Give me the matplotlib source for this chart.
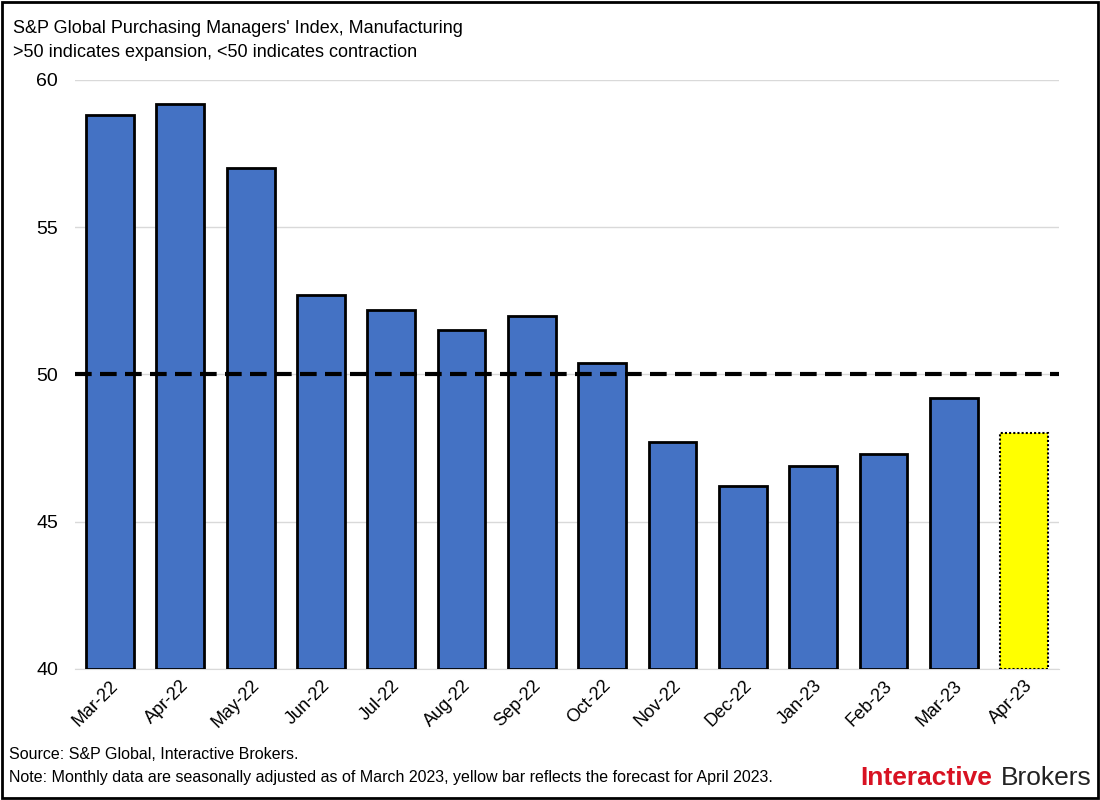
import matplotlib
matplotlib.use("Agg")
import matplotlib.pyplot as plt
from matplotlib.patches import Rectangle

months = ["Mar-22","Apr-22","May-22","Jun-22","Jul-22","Aug-22","Sep-22","Oct-22",
          "Nov-22","Dec-22","Jan-23","Feb-23","Mar-23","Apr-23"]
pmi = [58.8,59.2,57.0,52.7,52.2,51.5,52.0,50.4,47.7,46.2,46.9,47.3,49.2,48.0]
forecast = [False]*13 + [True]

plt.rcParams['font.family'] = ['Liberation Sans', 'DejaVu Sans']
fig = plt.figure(figsize=(11, 8), dpi=100)
ax = fig.add_axes([0.068, 0.164, 0.895, 0.736])
x = range(len(months))
for i, (v, f) in enumerate(zip(pmi, forecast)):
    if f:
        ax.bar(i, v - 40, bottom=40, width=0.68, color="#FFFF00", edgecolor="black",
               linewidth=1.5, linestyle=(0, (1, 1)), zorder=3)
    else:
        ax.bar(i, v - 40, bottom=40, width=0.68, color="#4472C4", edgecolor="black",
               linewidth=2, zorder=3)
ax.axhline(50, color="black", linestyle=(0, (4, 2)), linewidth=3, zorder=4)
ax.set_ylim(40, 60)
ax.set_xlim(-0.5, len(months) - 0.5)
ax.set_yticks([40, 45, 50, 55, 60])
ax.grid(axis="y", color="#d9d9d9", linewidth=1, zorder=0)
ax.set_xticks(list(x))
ax.set_xticklabels(months, rotation=45, ha="right", rotation_mode="anchor", fontsize=13)
ax.tick_params(axis="y", labelsize=14, length=0, pad=12)
ax.tick_params(axis="x", length=0, pad=6)
for s in ax.spines.values():
    s.set_visible(False)
ax.spines["bottom"].set_visible(True)
ax.spines["bottom"].set_color("#d9d9d9")

fig.text(0.012, 0.975, "S&P Global Purchasing Managers' Index, Manufacturing", fontsize=13, va="top")
fig.text(0.012, 0.945, ">50 indicates expansion, <50 indicates contraction", fontsize=13, va="top")
fig.text(0.008, 0.057, "Source: S&P Global, Interactive Brokers.", fontsize=11.5, va="center")
fig.text(0.008, 0.028, "Note: Monthly data are seasonally adjusted as of March 2023, yellow bar reflects the forecast for April 2023.",
         fontsize=11.5, va="center")
fig.text(0.992, 0.028, "Brokers", fontsize=19, color="#222222", va="center", ha="right")
fig.text(0.902, 0.028, "Interactive", fontsize=19, fontweight="bold", color="#d81222", va="center", ha="right")
fig.add_artist(Rectangle((0.002, 0.002), 0.996, 0.996, transform=fig.transFigure,
                         fill=False, edgecolor="black", linewidth=2))
fig.savefig("out.png", dpi=100)
